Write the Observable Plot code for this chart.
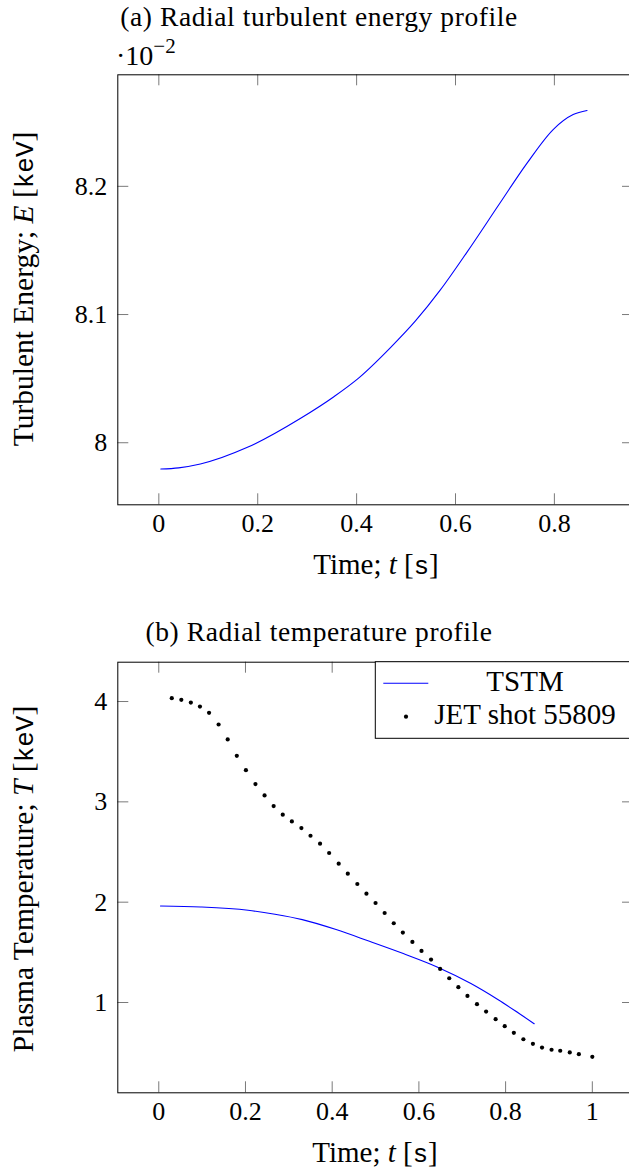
<!DOCTYPE html>
<html>
<head>
<meta charset="utf-8">
<script src="https://cdn.jsdelivr.net/npm/d3@7"></script>
<script src="https://cdn.jsdelivr.net/npm/@observablehq/plot@0.6"></script>
<style>
  html, body { margin: 0; padding: 0; background: #fff; overflow: hidden; }
  #wrap { position: relative; width: 629px; height: 1171px; overflow: hidden; background: #fff; }
</style>
</head>
<body>
<div id="wrap"></div>
<script>
// ---------- data: (a) radial turbulent energy profile (values in units of 10^-2 keV) ----------
const timeA   = [0.004, 0.040, 0.084, 0.178, 0.286, 0.354, 0.404, 0.468, 0.519, 0.569, 0.623, 0.690, 0.744, 0.798, 0.838, 0.866];
const energyA = [7.9795, 7.9804, 7.9834, 7.9962, 8.0189, 8.0359, 8.0504, 8.0740, 8.0950, 8.1190, 8.1485, 8.1870, 8.2177, 8.2445, 8.2560, 8.2592];
const ticksXA = [0, 0.2, 0.4, 0.6, 0.8];
const ticksYA = [8, 8.1, 8.2];

// ---------- data: (b) radial temperature profile ----------
const timeTSTM = [0.004, 0.097, 0.206, 0.268, 0.331, 0.409, 0.486, 0.564, 0.642, 0.720, 0.782, 0.821, 0.866];
const tempTSTM = [1.962, 1.952, 1.919, 1.879, 1.826, 1.727, 1.610, 1.488, 1.355, 1.189, 1.030, 0.920, 0.788];
const timeJET = [0.030, 0.052, 0.074, 0.095, 0.116, 0.138, 0.159, 0.180, 0.201, 0.223,
                 0.244, 0.265, 0.286, 0.307, 0.329, 0.350, 0.372, 0.393, 0.415, 0.436,
                 0.458, 0.479, 0.500, 0.521, 0.542, 0.563, 0.585, 0.606, 0.628, 0.649,
                 0.670, 0.691, 0.712, 0.734, 0.755, 0.777, 0.798, 0.819, 0.841, 0.863,
                 0.884, 0.906, 0.926, 0.948, 0.969, 1.000];
const tempJET = [4.033, 4.017, 3.990, 3.950, 3.887, 3.771, 3.622, 3.459, 3.316, 3.177,
                 3.064, 2.958, 2.872, 2.805, 2.739, 2.662, 2.583, 2.490, 2.384, 2.284,
                 2.181, 2.085, 1.992, 1.892, 1.790, 1.697, 1.604, 1.514, 1.428, 1.335,
                 1.242, 1.153, 1.066, 0.983, 0.910, 0.834, 0.764, 0.698, 0.634, 0.588,
                 0.551, 0.529, 0.519, 0.502, 0.485, 0.459];
const ticksXB = [0, 0.2, 0.4, 0.6, 0.8, 1];
const ticksYB = [1, 2, 3, 4];

const seriesNames = ["TSTM", "JET shot 55809"];
const titles = ["(a) Radial turbulent energy profile", "(b) Radial temperature profile"];

// ---------- style ----------
const SERIF = "'Liberation Serif', 'Times New Roman', serif";
const MONO = "'Liberation Mono', monospace";
const BLUE = "#0000ff";
const TICK = "#7a7a7a";
const W = 660, ML = 117.3, MR = 27;
const fmt = d3.format("~g");

const wrap = document.getElementById("wrap");

function panel({top, height, mTop, mBottom, xDomain, yDomain, xTicks, yTicks, marks}) {
  const innerH = height - mTop - mBottom;
  const innerW = W - ML - MR;
  const svg = Plot.plot({
    width: W, height,
    marginLeft: ML, marginRight: MR, marginTop: mTop, marginBottom: mBottom,
    x: {domain: xDomain, label: null},
    y: {domain: yDomain, label: null},
    style: {
      fontFamily: SERIF, fontSize: "26px", color: "#000", background: "transparent",
      maxWidth: "none", position: "absolute", top: top + "px", left: "0px", overflow: "visible"
    },
    marks: [
      ...marks,
      Plot.tickX(xTicks, {x: d => d, insetTop: innerH - 11, stroke: TICK, strokeWidth: 1}),
      Plot.tickX(xTicks, {x: d => d, insetBottom: innerH - 11, stroke: TICK, strokeWidth: 1}),
      Plot.tickY(yTicks, {y: d => d, insetRight: innerW - 11, stroke: TICK, strokeWidth: 1}),
      Plot.tickY(yTicks, {y: d => d, insetLeft: innerW - 11, stroke: TICK, strokeWidth: 1}),
      Plot.frame({stroke: "#000", strokeWidth: 1}),
      Plot.axisX({ticks: xTicks, tickFormat: fmt, anchor: "bottom", tickSize: 0, tickPadding: 8.5, fontSize: 26, label: null}),
      Plot.axisY({ticks: yTicks, tickFormat: fmt, anchor: "left", tickSize: 0, tickPadding: 10.6, fontSize: 26, label: null})
    ]
  });
  wrap.appendChild(svg);
}

// (a)
const dataA = timeA.map((t, i) => ({t, e: energyA[i]}));
panel({
  top: 0, height: 540, mTop: 74.3, mBottom: 35.7,
  xDomain: [-0.083, 0.96], yDomain: [7.9516, 8.287],
  xTicks: ticksXA, yTicks: ticksYA,
  marks: [Plot.line(dataA, {x: "t", y: "e", stroke: BLUE, strokeWidth: 1.1, curve: "monotone-x"})]
});

// (b)
const dataTSTM = timeTSTM.map((t, i) => ({t, T: tempTSTM[i]}));
const dataJET = timeJET.map((t, i) => ({t, T: tempJET[i]}));
panel({
  top: 600, height: 530, mTop: 61.7, mBottom: 37.7,
  xDomain: [-0.0945, 1.095], yDomain: [0.100, 4.392],
  xTicks: ticksXB, yTicks: ticksYB,
  marks: [
    Plot.line(dataTSTM, {x: "t", y: "T", stroke: BLUE, strokeWidth: 1.1, curve: "monotone-x"}),
    Plot.dot(dataJET, {x: "t", y: "T", r: 2.1, fill: "#000", stroke: null})
  ]
});

// ---------- text overlay: titles, axis labels, legend ----------
const ov = d3.select(wrap).append("svg")
  .attr("width", 629).attr("height", 1171)
  .style("position", "absolute").style("left", "0px").style("top", "0px")
  .style("pointer-events", "none")
  .attr("font-family", SERIF).attr("fill", "#000");

function label(x, y, parts, {size = 29, anchor = "middle", rotate = 0, spacing = 0} = {}) {
  const t = ov.append("text")
    .attr("x", x).attr("y", y).attr("font-size", size).attr("text-anchor", anchor);
  if (spacing) t.attr("letter-spacing", spacing);
  if (rotate) t.attr("transform", `rotate(${rotate},${x},${y})`);
  for (const p of parts) {
    const s = t.append("tspan").text(p.text);
    if (p.italic) s.attr("font-style", "italic");
    if (p.mono) s.attr("font-family", MONO).attr("font-size", size * 0.88);
    if (p.dy) s.attr("dy", p.dy);
    if (p.size) s.attr("font-size", p.size);
  }
  return t;
}

// (a) title and scale factor
label(319, 26, [{text: titles[0]}], {size: 27.5, spacing: 0.6});
label(116, 65, [{text: "·10"}, {text: "−2", dy: -12, size: 21}], {anchor: "start", size: 28});
// (a) axis labels
label(376, 574, [{text: "Time; "}, {text: "t", italic: true}, {text: " ["}, {text: "s", mono: true}, {text: "]"}]);
label(33, 289, [{text: "Turbulent Energy; "}, {text: "E", italic: true}, {text: " ["}, {text: "keV", mono: true}, {text: "]"}], {rotate: -90, size: 29.5});

// (b) title and axis labels
label(319, 641, [{text: titles[1]}], {size: 27.5, spacing: 0.6});
label(375, 1161.5, [{text: "Time; "}, {text: "t", italic: true}, {text: " ["}, {text: "s", mono: true}, {text: "]"}]);
label(33, 879, [{text: "Plasma Temperature; "}, {text: "T", italic: true}, {text: " ["}, {text: "keV", mono: true}, {text: "]"}], {rotate: -90, size: 29.5});

// legend (north-east corner of panel b)
ov.append("rect").attr("x", 375.3).attr("y", 661.7).attr("width", 257.7).attr("height", 76.6)
  .attr("fill", "#fff").attr("stroke", "#000").attr("stroke-width", 1);
ov.append("line").attr("x1", 383.3).attr("x2", 428.3).attr("y1", 683.3).attr("y2", 683.3)
  .attr("stroke", BLUE).attr("stroke-width", 1.1);
ov.append("circle").attr("cx", 406).attr("cy", 716.7).attr("r", 2.1).attr("fill", "#000");
label(525, 691, [{text: seriesNames[0]}]);
label(525, 724, [{text: seriesNames[1]}]);
</script>
</body>
</html>
